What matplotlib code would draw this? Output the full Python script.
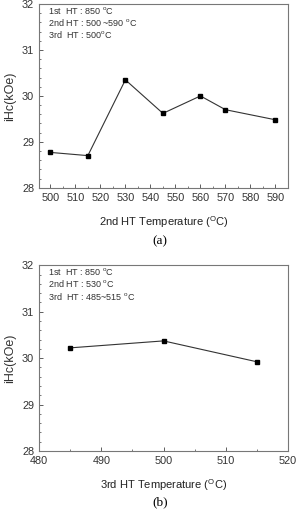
import numpy as np
import matplotlib
matplotlib.use('Agg')
import matplotlib.pyplot as plt
from matplotlib.ticker import MultipleLocator

# panel (a): 2nd HT temperature sweep
temp_a = [500, 515, 530, 545, 560, 570, 590]
ihc_a = [28.77, 28.70, 30.35, 29.62, 30.00, 29.70, 29.48]
notes_a = ['1st  HT : 850 $^{\\mathrm{o}}$C',
           '2nd HT : 500 ~590 $^{\\mathrm{o}}$C',
           '3rd  HT : 500$^{\\mathrm{o}}$C']

# panel (b): 3rd HT temperature sweep
temp_b = [485, 500, 515]
ihc_b = [30.22, 30.37, 29.92]
notes_b = ['1st  HT : 850 $^{\\mathrm{o}}$C',
           '2nd HT : 530 $^{\\mathrm{o}}$C',
           '3rd  HT : 485~515 $^{\\mathrm{o}}$C']

plt.rcParams['font.family'] = 'Liberation Sans'
plt.rcParams['mathtext.fontset'] = 'custom'
plt.rcParams['mathtext.rm'] = 'Liberation Sans'

fig = plt.figure(figsize=(2.96, 5.13), dpi=100)
ax1 = fig.add_axes([0.132, 0.634, 0.841, 0.358])
ax2 = fig.add_axes([0.132, 0.121, 0.841, 0.362])

def style(ax, x, y, notes, xlabel, xlim, xticks):
    ax.plot(x, y, color='#333333', lw=0.8, marker='s', ms=3, mfc='black', mec='black')
    ax.set_xlim(*xlim)
    ax.set_ylim(28, 32)
    ax.set_xticks(xticks)
    ax.set_yticks([28, 29, 30, 31, 32])
    ax.xaxis.set_minor_locator(MultipleLocator(5))
    ax.yaxis.set_minor_locator(MultipleLocator(0.2))
    ax.tick_params(which='major', direction='in', labelsize=7.8, length=3, width=0.6,
                   colors='#444444', labelcolor='#333333')
    ax.tick_params(which='minor', direction='in', length=1.6, width=0.5, colors='#444444')
    for s in ax.spines.values():
        s.set_color('#777777')
        s.set_linewidth(0.8)
    ax.set_ylabel('iHc(kOe)', fontsize=9, color='#333333', labelpad=4)
    ax.set_xlabel(xlabel, fontsize=8, color='#222222', labelpad=8)
    for i, t in enumerate(notes):
        ax.text(0.035, 0.995 - i * 0.066, t, transform=ax.transAxes, fontsize=6.5,
                va='top', ha='left', color='#333333')

style(ax1, temp_a, ihc_a, notes_a, '2nd HT Temperature ($^{\\mathrm{O}}$C)',
      (495.5, 595), np.arange(500, 591, 10))
style(ax2, temp_b, ihc_b, notes_b, '3rd HT Temperature ($^{\\mathrm{O}}$C)',
      (480, 520), np.arange(480, 521, 10))

fig.text(0.54, 0.530, '(a)', fontsize=9.5, family='Liberation Serif', ha='center', va='center')
fig.text(0.54, 0.020, '(b)', fontsize=9.5, family='Liberation Serif', ha='center', va='center')

fig.savefig('out.png', dpi=100)
